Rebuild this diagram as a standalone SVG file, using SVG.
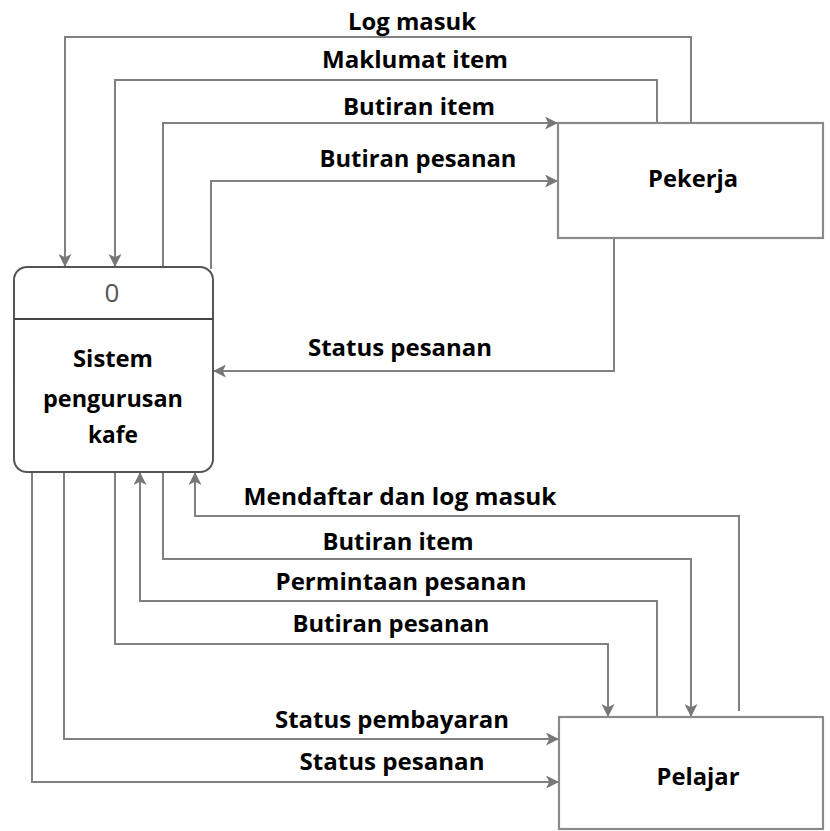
<svg xmlns="http://www.w3.org/2000/svg" width="830" height="831" viewBox="0 0 830 831">
<style>
.bg{fill:#ffffff}
.flow{fill:none;stroke:#808080;stroke-width:2;marker-end:url(#arr)}
.ext{fill:#ffffff;stroke:#8a8a8a;stroke-width:2.2}
.proc{fill:#ffffff;stroke:#555555;stroke-width:2}
.div{stroke:#444444;stroke-width:2}
.lbl{font-family:"Open Sans","Liberation Sans",sans-serif;font-weight:bold;font-size:24px;fill:#000000;text-anchor:middle}
.num{font-family:"Open Sans","Liberation Sans",sans-serif;font-size:26px;fill:#555555;text-anchor:middle}
</style>
<defs>
<marker id="arr" viewBox="0 0 12 12" refX="12" refY="6" markerWidth="13" markerHeight="13" markerUnits="userSpaceOnUse" orient="auto">
<path d="M0,0 L12,6 L0,12 L3,6 z" fill="#777777"/>
</marker>
</defs>
<rect class="bg" x="0" y="0" width="830" height="831"/>

<g id="connectors">
<path class="flow" d="M691,123 V37 H65 V267"/>
<path class="flow" d="M657,123 V80 H115 V267"/>
<path class="flow" d="M163,267 V123 H558"/>
<path class="flow" d="M211,269 V181 H558"/>
<path class="flow" d="M614,238 V371 H213"/>
<path class="flow" d="M739,711 V516 H195 V472"/>
<path class="flow" d="M163,472 V559 H691 V717"/>
<path class="flow" d="M657,717 V601 H140 V472"/>
<path class="flow" d="M115,472 V644 H608 V717"/>
<path class="flow" d="M64,472 V739 H559"/>
<path class="flow" d="M32,470 V782 H559"/>
</g>

<g id="labels">
<text class="lbl" x="412" y="30" textLength="128" lengthAdjust="spacingAndGlyphs">Log masuk</text>
<text class="lbl" x="415" y="68" textLength="186" lengthAdjust="spacingAndGlyphs">Maklumat item</text>
<text class="lbl" x="419" y="115" textLength="152" lengthAdjust="spacingAndGlyphs">Butiran item</text>
<text class="lbl" x="418" y="167" textLength="197" lengthAdjust="spacingAndGlyphs">Butiran pesanan</text>
<text class="lbl" x="400" y="356" textLength="184" lengthAdjust="spacingAndGlyphs">Status pesanan</text>
<text class="lbl" x="400" y="505" textLength="313" lengthAdjust="spacingAndGlyphs">Mendaftar dan log masuk</text>
<text class="lbl" x="398" y="550" textLength="151" lengthAdjust="spacingAndGlyphs">Butiran item</text>
<text class="lbl" x="401" y="590" textLength="251" lengthAdjust="spacingAndGlyphs">Permintaan pesanan</text>
<text class="lbl" x="391" y="632" textLength="197" lengthAdjust="spacingAndGlyphs">Butiran pesanan</text>
<text class="lbl" x="392" y="728" textLength="234" lengthAdjust="spacingAndGlyphs">Status pembayaran</text>
<text class="lbl" x="392" y="770" textLength="185" lengthAdjust="spacingAndGlyphs">Status pesanan</text>
</g>

<g id="process0">
<rect class="proc" x="14" y="267" width="199" height="205" rx="13" ry="13"/>
<line class="div" x1="14" y1="319" x2="213" y2="319"/>
<text class="num" x="112" y="302">0</text>
<text class="lbl" x="113" y="367" textLength="80" lengthAdjust="spacingAndGlyphs">Sistem</text>
<text class="lbl" x="113" y="407" textLength="140" lengthAdjust="spacingAndGlyphs">pengurusan</text>
<text class="lbl" x="113" y="443" textLength="50" lengthAdjust="spacingAndGlyphs">kafe</text>
</g>

<g id="pekerja">
<rect class="ext" x="558" y="123" width="265" height="115"/>
<text class="lbl" x="693" y="187" textLength="90" lengthAdjust="spacingAndGlyphs">Pekerja</text>
</g>

<g id="pelajar">
<rect class="ext" x="559" y="717" width="264" height="112"/>
<text class="lbl" x="698" y="785" textLength="83" lengthAdjust="spacingAndGlyphs">Pelajar</text>
</g>
</svg>
